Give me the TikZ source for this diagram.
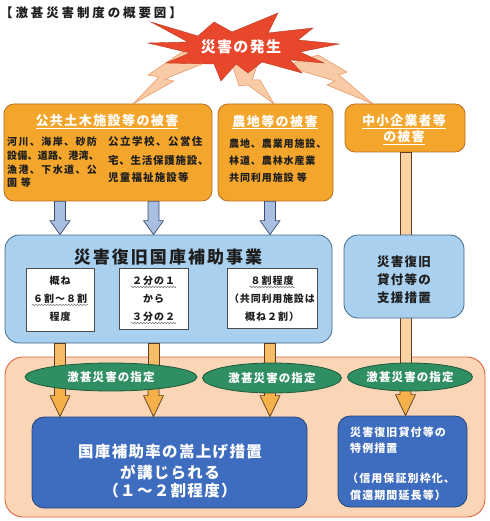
\documentclass[tikz,border=0pt]{standalone}
\usepackage{fontspec}
\setmainfont{Noto Sans CJK JP}
\usetikzlibrary{fit,calc,shapes.geometric,decorations.pathmorphing}
\newcommand\fs[2]{\fontsize{#1}{#1}\selectfont\addfontfeature{LetterSpace=#2}}
\definecolor{orgF}{HTML}{F4A62C}
\definecolor{orgD}{HTML}{B87020}
\definecolor{lbF}{HTML}{A9D1EF}
\definecolor{lbD}{HTML}{45698E}
\definecolor{dbF}{HTML}{3E6DBF}
\definecolor{dbD}{HTML}{26457A}
\definecolor{grF}{HTML}{2F8E62}
\definecolor{grD}{HTML}{1C5A3C}
\definecolor{pchF}{HTML}{FAD5B6}
\definecolor{pchD}{HTML}{E2643A}
\definecolor{starF}{HTML}{E8472B}
\definecolor{boltF}{HTML}{F8CBA6}
\definecolor{boltD}{HTML}{E9905E}
\definecolor{barF}{HTML}{A9BFE2}
\definecolor{barD}{HTML}{3C4C70}
\definecolor{oarF}{HTML}{F7BC68}
\definecolor{oarF2}{HTML}{F5B04A}
\definecolor{oarD}{HTML}{5C3C1E}
\definecolor{lineF}{HTML}{FAD2A4}
\definecolor{txtD}{HTML}{1E1E1E}
\newcommand\blockarrow[4]{%
  \path[#1] let \p1=(#2), \p2=(#3) in
   (\x1-5.5pt,\y1) -- (\x1+5.5pt,\y1) -- (\x1+5.5pt,\y2+#4) -- (\x1+10pt,\y2+#4)
   -- (\x1,\y2) -- (\x1-10pt,\y2+#4) -- (\x1-5.5pt,\y2+#4) -- cycle;}
\newcommand\shaftbar[3]{%
  \path[#1] let \p1=(#2), \p2=(#3) in (\x1-5.5pt,\y1) rectangle (\x1+5.5pt,\y2);}
\begin{document}
\begin{tikzpicture}[x=1pt,y=-1pt,
  font=\bfseries,
  tx/.style={inner sep=0pt, text=txtD},
  wt/.style={inner sep=0pt, text=white},
  obox/.style={draw=orgD, fill=orgF, rounded corners=10pt, inner sep=0pt, line width=0.8pt},
  lbox/.style={draw=lbD, fill=lbF, rounded corners=14pt, inner sep=0pt, line width=0.8pt},
  dbox/.style={draw=dbD, fill=dbF, rounded corners=12pt, inner sep=0pt, line width=0.8pt},
  wbox/.style={draw=black!70, fill=white, inner sep=0pt, line width=0.6pt},
  ell/.style={ellipse, draw=grD, fill=grF, inner sep=0pt, text=white, line width=0.8pt},
  barrow/.style={draw=barD, fill=barF, line width=0.7pt},
  oshaft/.style={draw=oarD, fill=oarF, line width=0.7pt},
  oarrow/.style={draw=oarD, fill=oarF2, line width=0.7pt},
  rshaft/.style={draw=oarD, fill=lineF, line width=0.8pt},
  bolt/.style={draw=boltD, fill=boltF, line width=0.5pt},
  wavy/.style={draw=black!55, line width=0.5pt, decorate, decoration={snake, amplitude=0.7pt, segment length=3pt}}
]
\useasboundingbox (0,0) rectangle (489,521);
\fill[white] (0,0) rectangle (489,521);

% title
\node[tx, anchor=west] (title) at (0,13) {\fs{12.5}{23}【激甚災害制度の概要図】};

% lightning bolts
\path[bolt] (182,52) -- (148,75) -- (159,77) -- (133,104) -- (174,81) -- (165,79) -- (212,60) -- cycle;
\path[bolt] (232,64) -- (239,86) -- (248,85) -- (274,104) -- (260,80) -- (252,80) -- (258,63) -- cycle;
\path[bolt] (285,66) -- (318,55) -- (347,72) -- (339,75) -- (373,104) -- (327,85) -- (335,81) -- cycle;

% star
\path[fill=starF, draw=starF!80!black, line width=0.4pt]
  (151,22) -- (198,36) -- (214,22) -- (232,32) -- (278,13) -- (268,33) -- (313,28) -- (298,40)
  -- (339,44) -- (300,52) -- (324,63) -- (290,60) -- (302,73) -- (262,62) -- (248,73) -- (236,64)
  -- (221,81) -- (214,64) -- (166,63) -- (190,53) -- (148,43) -- (188,42) -- cycle;
\node[wt] (hassei) at (241,47) {\fs{15}{9}災害の発生};

% damage boxes
\node[obox, fit={(4,104)(212,201)}] (pub) {};
\node[obox, fit={(218,104)(333,201)}] (agri) {};
\node[obox, fit={(345,104)(465,152)}] (sme) {};
\node[wt] (pubT) at (107,122) {\fs{13}{11}\underline{公共土木施設等の被害}};
\node[wt] (agriT) at (275,122) {\fs{13}{11}\underline{農地等の被害}};
\node[wt] (smeT1) at (404,121.5) {\fs{13}{9}\underline{中小企業者等}};
\node[wt] (smeT2) at (404,138) {\fs{13}{9}\underline{の被害}};
\foreach \t/\l [count=\i] in {河川、海岸、砂防/14,設備、道路、港湾、/2,漁港、下水道、公/14,園 等/14}
  \node[tx, anchor=west] (pubL\i) at (7,{127.9+13.8*\i}) {\fs{10}{\l}\t};
\foreach \t/\y/\l [count=\i] in {公立学校、公営住/141.7/14,宅、生活保護施設、/160.5/7,児童福祉施設等/177.5/11}
  \node[tx, anchor=west] (pubR\i) at (108,\y) {\fs{10.5}{\l}\t};
\foreach \t/\y [count=\i] in {農地、農業用施設、/143.3,林道、農林水産業/160.5,共同利用施設 等/177.3}
  \node[tx, anchor=west] (agriL\i) at (229,\y) {\fs{10}{9}\t};

% arrow columns
\coordinate (ax1) at (60,0);
\coordinate (ax2) at (153.5,0);
\coordinate (ax3) at (270,0);
\coordinate (ax4) at (405.5,0);

% peach region
\node[fit={(5,357)(485,517)}, draw=pchD, fill=pchF, rounded corners=18pt, inner sep=0pt, line width=0.9pt] (zone) {};

% blue boxes
\node[lbox, fit={(5,235)(332,343)}] (aid) {};
\coordinate (e3c) at (410,377);
% right vertical line behind loan box
\shaftbar{rshaft}{ax4 |- sme.south}{ax4 |- e3c}
\node[lbox, fit={(344,235)(464,318)}] (loan) {};

% blue arrows
\blockarrow{barrow}{ax1 |- pub.south}{ax1 |- aid.north}{14pt}
\blockarrow{barrow}{ax2 |- pub.south}{ax2 |- aid.north}{14pt}
\blockarrow{barrow}{ax3 |- agri.south}{ax3 |- aid.north}{14pt}

\node[tx] (loan1) at (404,262) {\fs{12.5}{10}災害復旧};
\node[tx] (loan2) at (404,280) {\fs{12.5}{10}貸付等の};
\node[tx] (loan3) at (404,298) {\fs{12.5}{10}支援措置};

% inner white boxes
\node[tx] (aidT) at (168,257.3) {\fs{17}{12}災害復旧国庫補助事業};
\node[wbox, fit={(26,268)(94,331)}] (ba) {};
\node[wbox, fit={(119,268)(188,329)}] (bb) {};
\node[wbox, fit={(227,268)(317,328)}] (bc) {};
\node[tx, inner sep=1pt] (ba1) at (60,281) {\fs{10}{10}概ね};
\node[tx, inner sep=1pt] (ba2) at (60,299) {\fs{10}{10}６割～８割};
\node[tx, inner sep=1pt] (ba3) at (60,317) {\fs{10}{10}程度};
\node[tx, inner sep=1pt] (bb1) at (153.5,281) {\fs{10}{10}２分の１};
\node[tx, inner sep=1pt] (bb2) at (153.5,299) {\fs{10}{10}から};
\node[tx, inner sep=1pt] (bb3) at (153.5,317) {\fs{10}{10}３分の２};
\node[tx, inner sep=1pt] (bc1) at (272,281) {\fs{10}{10}８割程度};
\node[tx, inner sep=1pt] (bc2) at (272,299) {\fs{10}{8}（共同利用施設は};
\node[tx, inner sep=1pt] (bc3) at (272,317) {\fs{10}{10}概ね２割）};
\draw[wavy] (ba2.south west) -- (ba2.south east);
\draw[wavy] (bb1.south west) -- (bb1.south east);
\draw[wavy] (bb3.south west) -- (bb3.south east);
\draw[wavy] (bc1.south west) -- (bc1.south east);

% result boxes
\node[dbox, fit={(32,417)(307,508)}] (raise) {};
\node[dbox, fit={(338,416)(467,507)}] (spec) {};

% orange shafts and arrows
\coordinate (e1c) at (111,377);
\coordinate (e2c) at (272,378);
\shaftbar{oshaft}{ax1 |- aid.south}{ax1 |- e1c}
\shaftbar{oshaft}{ax2 |- aid.south}{ax2 |- e1c}
\shaftbar{oshaft}{ax3 |- aid.south}{ax3 |- e2c}
\blockarrow{oarrow}{ax1 |- e1c}{ax1 |- raise.north}{21pt}
\blockarrow{oarrow}{ax2 |- e1c}{ax2 |- raise.north}{21pt}
\blockarrow{oarrow}{ax3 |- e2c}{ax3 |- raise.north}{21pt}
\blockarrow{oarrow}{ax4 |- e3c}{ax4 |- spec.north}{21pt}

% ellipses
\node[ell, minimum width=172pt, minimum height=28pt] (e1) at (e1c) {\fs{11.5}{9.5}激甚災害の指定};
\node[ell, minimum width=139pt, minimum height=30pt] (e2) at (e2c) {\fs{11.5}{9.5}激甚災害の指定};
\node[ell, minimum width=125pt, minimum height=28pt] (e3) at (e3c) {\fs{11.5}{9.5}激甚災害の指定};

% result texts
\node[wt] (r1) at (170,452) {\fs{15.5}{8.5}国庫補助率の嵩上げ措置};
\node[wt] (r2) at (170,472) {\fs{15.5}{8.5}が講じられる};
\node[wt] (r3) at (170,491) {\fs{15.5}{8.5}（１～２割程度）};
\node[wt, anchor=west] (s1) at (350,432) {\fs{11}{10}災害復旧貸付等の};
\node[wt, anchor=west] (s2) at (350,448) {\fs{11}{10}特例措置};
\node[wt, anchor=west] (s3) at (347,478) {\fs{11}{10}（信用保証別枠化、};
\node[wt, anchor=west] (s4) at (350,495) {\fs{11}{10}償還期間延長等）};
\end{tikzpicture}
\end{document}
